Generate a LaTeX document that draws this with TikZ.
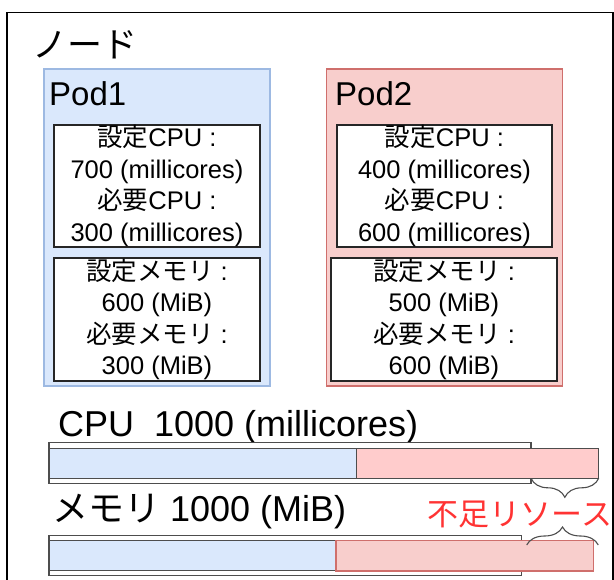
\documentclass[tikz,border=0pt]{standalone}
\usepackage{fontspec}
\setmainfont{Liberation Sans}
\newfontfamily\jp{Noto Sans CJK JP}
\usetikzlibrary{decorations.pathreplacing}
\definecolor{bluefill}{HTML}{DAE8FC}
\definecolor{bluedraw}{HTML}{9DB9E2}
\definecolor{redfill}{HTML}{F8CECC}
\definecolor{reddraw}{HTML}{CF6F6C}
\definecolor{cpured}{HTML}{FFCCCC}
\definecolor{barline}{HTML}{4D4D4D}
\definecolor{warn}{HTML}{FF3333}
\begin{document}
\begin{tikzpicture}[x=1pt,y=-1pt,
  box/.style={anchor=north west, inner sep=0pt, outer sep=0pt},
  pod1box/.style={box, draw=bluedraw, fill=bluefill, line width=1.2pt},
  pod2box/.style={box, draw=reddraw, fill=redfill, line width=1.2pt},
  infobox/.style={box, draw=black!85, fill=white, line width=1.2pt, align=center,
    font=\fontsize{25.5}{31.5}\selectfont},
  title/.style={anchor=base west, inner sep=0pt, font=\fontsize{33}{36}\selectfont},
  outerbar/.style={box, draw=barline, fill=white, line width=1.3pt},
  bluebar/.style={box, draw=barline, fill=bluefill, line width=1.2pt},
  redbar/.style={box, draw=barline, fill=cpured, line width=1.2pt},
  memred/.style={box, draw=reddraw, fill=redfill, line width=1.2pt},
  bracestyle/.style={draw=barline, line width=1.1pt, decorate},
  label/.style={anchor=base west, inner sep=0pt, font=\fontsize{36}{40}\selectfont}
]
\useasboundingbox (0,0) rectangle (614,580);
\fill[white] (0,0) rectangle (614,580);

% outer node
\node[box, draw=black, line width=1.3pt, minimum width=606pt, minimum height=620pt] (nodebox) at (7,12.5) {};
\node[anchor=center, inner sep=0pt, font=\fontsize{35}{38}\selectfont\jp] (nodetitle) at (85,45) {ノード};

% Pod1
\node[pod1box, minimum width=226pt, minimum height=317pt] (pod1) at (44,69) {};
\node[title] (pod1t) at (49,106) {Pod1};
\node[infobox, minimum width=206pt, minimum height=122pt] (p1cpu) at (54,125)
  {{\jp 設定}CPU :\\700 (millicores)\\{\jp 必要}CPU :\\300 (millicores)};
\node[infobox, minimum width=206pt, minimum height=123pt] (p1mem) at (54,258)
  {{\jp 設定メモリ} :\\600 (MiB)\\{\jp 必要メモリ} :\\300 (MiB)};

% Pod2
\node[pod2box, minimum width=236pt, minimum height=317pt] (pod2) at (326.5,69) {};
\node[title] (pod2t) at (335,106) {Pod2};
\node[infobox, minimum width=215pt, minimum height=122pt] (p2cpu) at (337,125)
  {{\jp 設定}CPU :\\400 (millicores)\\{\jp 必要}CPU :\\600 (millicores)};
\node[infobox, minimum width=226pt, minimum height=123pt] (p2mem) at (331,258)
  {{\jp 設定メモリ} :\\500 (MiB)\\{\jp 必要メモリ} :\\600 (MiB)};

% CPU bar
\node[label] (cpulabel) at (58,436) {CPU\ \ 1000 (millicores)};
\node[outerbar, minimum width=482pt, minimum height=40.6pt] (cpuouter) at (49,442.7) {};
\node[bluebar, minimum width=307.7pt, minimum height=30pt] (cpublue) at (49,448.3) {};
\node[redbar, minimum width=242pt, minimum height=30pt] (cpured) at (356.7,448.3) {};

% Memory bar
\node[label] (memlabel) at (52,521) {{\jp メモリ} 1000 (MiB)};
\node[outerbar, minimum width=472.3pt, minimum height=40.4pt] (memouter) at (49,535.3) {};
\node[bluebar, minimum width=287pt, minimum height=30pt] (memblue) at (49,540.7) {};
\node[memred, minimum width=257.3pt, minimum height=30.5pt] (memred) at (336,540.5) {};

% braces
\coordinate (cb1) at (cpuouter.east |- cpured.south);
\draw[bracestyle, decoration={brace, amplitude=19pt}] (cpured.south east) -- (cb1);
\coordinate (mb1) at (526.7,545);
\coordinate (mb2) at (598.3,545);
\draw[bracestyle, decoration={brace, amplitude=18pt}] (mb1) -- (mb2);

\node[anchor=center, inner sep=0pt, text=warn, font=\fontsize{31}{35}\selectfont\jp] (short) at (520,514) {不足リソース};
\end{tikzpicture}
\end{document}
